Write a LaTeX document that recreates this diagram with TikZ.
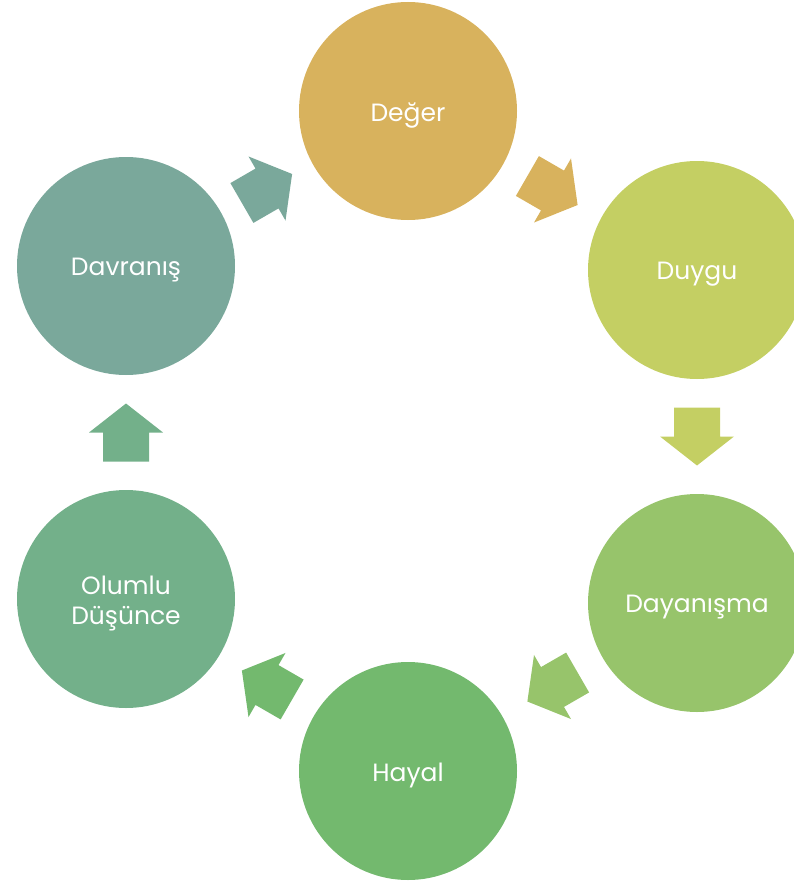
\documentclass[tikz,border=0pt]{standalone}
\usepackage{fontspec}
\setmainfont{Poppins}
\usetikzlibrary{calc}
\definecolor{cDeger}{HTML}{D8B25D}
\definecolor{cDuygu}{HTML}{C4CF63}
\definecolor{cDayan}{HTML}{97C46B}
\definecolor{cHayal}{HTML}{73B96E}
\definecolor{cOlumlu}{HTML}{73B08A}
\definecolor{cDavr}{HTML}{7AA89B}
\tikzset{
  stage/.style={circle, minimum size=218pt, inner sep=0pt,
    label={[text=white, font=\fontsize{25}{30}\selectfont, align=center,
      inner sep=0pt, yshift=-4pt]center:#1}},
  pics/cyc/.style={code={\fill[#1] (-29,-23) -- (0,-23) -- (0,-37) -- (29,0)
    -- (0,37) -- (0,23) -- (-29,23) -- cycle;}}
}
\begin{document}
\begin{tikzpicture}[x=1pt,y=-1pt]
\useasboundingbox (0,0) rectangle (794,883);
\clip (0,0) rectangle (794,883);
\node[stage={Değer}, fill=cDeger] (deger) at (408,111) {};
\node[stage={Duygu}, fill=cDuygu] (duygu) at (697,270) {};
\node[stage={Dayanışma}, fill=cDayan] (dayan) at (697,603) {};
\node[stage={Hayal}, fill=cHayal] (hayal) at (408,771) {};
\node[stage={Olumlu\\Düşünce}, fill=cOlumlu] (olumlu) at (126,599) {};
\node[stage={Davranış}, fill=cDavr] (davr) at (126,266) {};
\pic[rotate=-30] at ($(deger)!0.5!(duygu)$) {cyc=cDeger};
\pic[rotate=-90] at ($(duygu)!0.5!(dayan)$) {cyc=cDuygu};
\pic[rotate=-150] at ($(dayan)!0.5!(hayal)$) {cyc=cDayan};
\pic[rotate=150] at ($(hayal)!0.5!(olumlu)$) {cyc=cHayal};
\pic[rotate=90] at ($(olumlu)!0.5!(davr)$) {cyc=cOlumlu};
\pic[rotate=30] at ($(davr)!0.5!(deger)$) {cyc=cDavr};
\end{tikzpicture}
\end{document}
